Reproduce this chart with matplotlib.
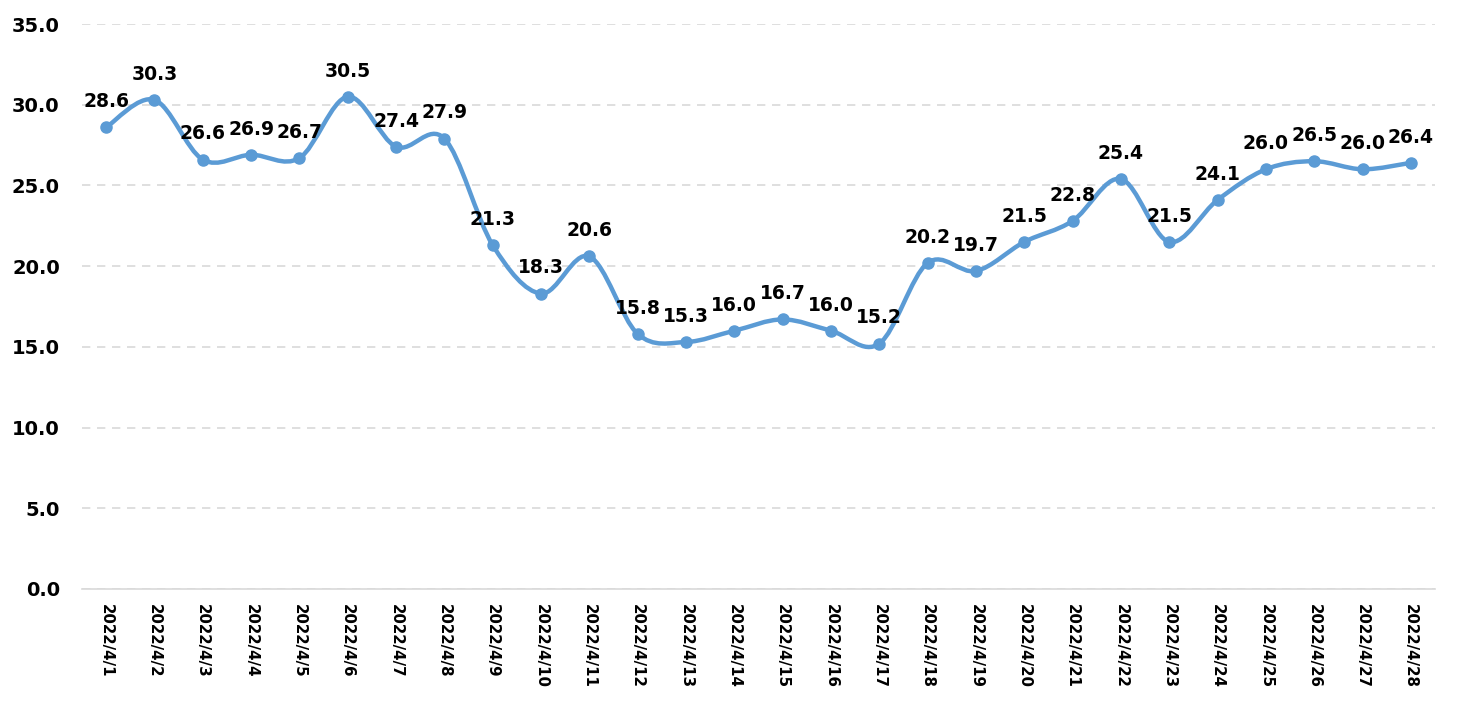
import numpy as np
import matplotlib
matplotlib.use("Agg")
import matplotlib.pyplot as plt
from matplotlib.path import Path
from matplotlib.patches import PathPatch

dates = [f"2022/4/{d}" for d in range(1, 29)]
values = [28.6, 30.3, 26.6, 26.9, 26.7, 30.5, 27.4, 27.9, 21.3, 18.3, 20.6,
          15.8, 15.3, 16.0, 16.7, 16.0, 15.2, 20.2, 19.7, 21.5, 22.8, 25.4,
          21.5, 24.1, 26.0, 26.5, 26.0, 26.4]

plt.rcParams['font.family'] = ['DejaVu Sans']
color = '#5B9BD5'

fig = plt.figure(figsize=(14.6, 7.06), dpi=100)
ax = fig.add_axes([82/1460, 1-589/706, (1435-82)/1460, (589-24)/706])

x = np.arange(len(values))
y = np.array(values)
pts = np.column_stack([x, y])

# Excel-style smoothed line (Catmull-Rom Bezier)
verts = [tuple(pts[0])]
codes = [Path.MOVETO]
n = len(pts)
for i in range(n - 1):
    p0 = pts[i - 1] if i > 0 else pts[i]
    p1 = pts[i]
    p2 = pts[i + 1]
    p3 = pts[i + 2] if i + 2 < n else pts[i + 1]
    c1 = p1 + (p2 - p0) / 6
    c2 = p2 - (p3 - p1) / 6
    verts += [tuple(c1), tuple(c2), tuple(p2)]
    codes += [Path.CURVE4] * 3
ax.add_patch(PathPatch(Path(verts, codes), facecolor='none', edgecolor=color,
                       lw=3.2, capstyle='round', joinstyle='round', zorder=3))
ax.plot(x, y, 'o', color=color, ms=8, zorder=4)

for xi, yi in zip(x, y):
    ax.annotate(f"{yi:.1f}", (xi, yi), xytext=(0, 14.5), textcoords='offset points',
                ha='center', va='baseline', fontsize=13.5, fontweight='bold',
                color='black', zorder=5)

ax.set_xlim(-0.5, len(values) - 0.5)
ax.set_ylim(0, 35)
ax.set_yticks(np.arange(0, 35.1, 5))
ax.set_yticklabels([f"{v:.1f}" for v in np.arange(0, 35.1, 5)], fontsize=14, fontweight='bold')
ax.set_xticks(x)
ax.set_xticklabels(dates, rotation=-90, fontsize=10.8, fontweight='bold', va='top', ha='center')
ax.tick_params(axis='both', length=0)
ax.tick_params(axis='x', pad=11)
ax.tick_params(axis='y', pad=16)
ax.grid(axis='y', color='#D9D9D9', linestyle=(0, (5, 4)), lw=1.2)
ax.set_axisbelow(True)
for s in ['top', 'right', 'left']:
    ax.spines[s].set_visible(False)
ax.spines['bottom'].set_color('#D9D9D9')
ax.spines['bottom'].set_linewidth(1.2)

fig.savefig('out.png', dpi=100)
